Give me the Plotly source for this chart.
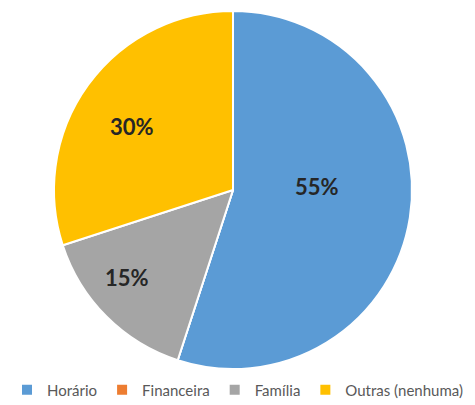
import plotly.graph_objects as go

labels = ["Horário", "Financeira", "Família", "Outras (nenhuma)"]
values = [55, 0, 15, 30]
colors = ["#5B9BD5", "#ED7D31", "#A5A5A5", "#FFC000"]

# label anchor points in pixels (Excel's best-fit placement)
label_px = {"Horário": (317, 187), "Família": (127, 277), "Outras (nenhuma)": (132, 126)}

W, H = 475, 405
total = sum(values)

fig = go.Figure()

fig.add_trace(go.Pie(
    labels=labels, values=values, sort=False, direction="clockwise",
    marker=dict(colors=colors, line=dict(color="white", width=2)),
    textinfo="none",
    domain=dict(x=[(233 - 179) / W, (233 + 179) / W],
                y=[(H - 190 - 179) / H, (H - 190 + 179) / H]),
    hoverinfo="label+percent",
))

for lab, v in zip(labels, values):
    if lab not in label_px:
        continue
    px, py = label_px[lab]
    fig.add_annotation(
        x=px / W, y=1 - py / H, xref="paper", yref="paper",
        xanchor="center", yanchor="middle",
        text="<b>%d%%</b>" % round(v / total * 100), showarrow=False,
        font=dict(family="Lato", size=22, color="#262626"),
    )

fig.update_layout(
    width=W, height=H,
    margin=dict(l=0, r=0, t=0, b=0, autoexpand=False),
    paper_bgcolor="white",
    showlegend=True,
    legend=dict(orientation="h", x=0.5, xanchor="center", y=(H - 390) / H, yanchor="middle",
                font=dict(family="Lato", size=15, color="#595959"),
                itemwidth=30, traceorder="normal"),
)

fig.write_html("out.html", config={"displayModeBar": False},
               post_script="document.body.style.margin='0';")
